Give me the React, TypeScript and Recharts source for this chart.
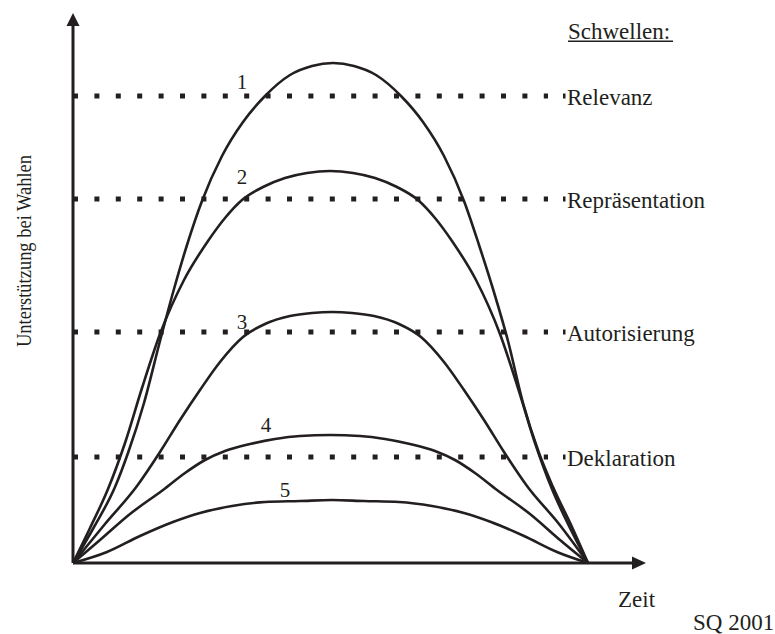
import { LineChart, Line, XAxis, YAxis, ReferenceLine, ReferenceDot } from 'recharts';

const INK = '#231f20';
const FONT = '"Liberation Serif", "Times New Roman", serif';

// curves: x = time, y = support
const curve1X = [0, 21, 42, 55, 71, 87, 101, 114, 129, 149, 170, 192, 217, 239, 260, 281, 303, 328, 350, 371, 391, 406, 420, 435, 450, 466, 480, 499, 515];
const curve1Y = [0, 36, 76, 110, 160, 222, 274, 318, 362, 407, 441, 467, 488, 497, 500, 497, 488, 467, 441, 407, 362, 318, 274, 222, 160, 110, 76, 36, 0];
const curve2X = [0, 17, 35, 52, 69, 87, 111, 135, 152, 169, 190, 212, 234, 257, 280, 302, 324, 345, 362, 379, 403, 427, 445, 462, 479, 497, 515];
const curve2Y = [0, 35, 74, 120, 175, 229, 283, 322, 345, 363, 376, 385, 390, 392, 390, 385, 376, 363, 345, 322, 283, 229, 175, 120, 74, 35, 0];
const curve3X = [0, 32, 64, 87, 107, 127, 147, 170, 192, 217, 239, 259, 279, 301, 326, 348, 371, 391, 411, 431, 454, 486, 515];
const curve3Y = [0, 39, 77, 111, 143, 173, 201, 226, 239, 247, 250, 251, 250, 247, 239, 226, 201, 173, 143, 111, 77, 39, 0];
const curve4X = [0, 27, 57, 90, 112, 132, 152, 177, 202, 227, 257, 287, 312, 337, 362, 382, 402, 424, 457, 487, 515];
const curve4Y = [0, 23, 49, 73, 90, 103, 112, 119, 124, 127, 128, 127, 124, 119, 112, 103, 90, 73, 49, 23, 0];
const curve5X = [0, 34, 67, 100, 127, 159, 192, 227, 259, 291, 326, 359, 391, 418, 451, 484, 515];
const curve5Y = [0, 11, 27, 41, 50, 57, 61, 62, 63, 62, 61, 57, 50, 41, 27, 11, 0];

const curveNames = ['1', '2', '3', '4', '5'];
const curveLabelX = [169, 169, 169, 193, 212];
const curveLabelY = [481, 386, 241, 138, 73];

const thresholdNames = ['Relevanz', 'Repräsentation', 'Autorisierung', 'Deklaration'];
const thresholdValues = [467, 364, 231, 106];
const thresholdEnd = 475;
const thresholdLabelX = 491;

const X_MAX = 573;
const Y_MAX = 550;

const toPoints = (xs: number[], ys: number[]) => xs.map((x, i) => ({ x, y: ys[i] }));
const curves = [
  toPoints(curve1X, curve1Y),
  toPoints(curve2X, curve2Y),
  toPoints(curve3X, curve3Y),
  toPoints(curve4X, curve4Y),
  toPoints(curve5X, curve5Y),
];

export default function App() {
  return (
    <div style={{ position: 'absolute', left: 0, top: 0, width: 775, height: 634, background: '#fff' }}>
      <LineChart width={775} height={634} margin={{ top: 13, right: 129, bottom: 71, left: 73 }}>
        <XAxis type="number" dataKey="x" domain={[0, X_MAX]} height={0} tick={false} tickLine={false} axisLine={false} />
        <YAxis type="number" dataKey="y" domain={[0, Y_MAX]} width={0} tick={false} tickLine={false} axisLine={false} />
        {/* axes */}
        <ReferenceLine segment={[{ x: 0, y: 0 }, { x: X_MAX - 6, y: 0 }]} stroke={INK} strokeWidth={3} />
        <ReferenceLine segment={[{ x: 0, y: 0 }, { x: 0, y: Y_MAX - 6 }]} stroke={INK} strokeWidth={3} />
        {thresholdValues.map((v) => (
          <ReferenceLine
            key={'t' + v}
            segment={[{ x: 0, y: v }, { x: thresholdEnd, y: v }]}
            stroke={INK}
            strokeWidth={5}
            strokeDasharray="5 16.4"
          />
        ))}
        {thresholdValues.map((v, i) => (
          <ReferenceDot
            key={'tl' + v}
            x={thresholdLabelX}
            y={v}
            shape={(p: any) => (
              <g>
                <rect x={p.cx - 1} y={p.cy - 2.5} width={2.5} height={5} fill={INK} />
                <text x={p.cx + 3} y={p.cy + 8.5} fontFamily={FONT} fontSize={23} fill={INK}>
                  {thresholdNames[i]}
                </text>
              </g>
            )}
          />
        ))}
        {curves.map((pts, i) => (
          <Line
            key={'c' + i}
            data={pts}
            dataKey="y"
            type="monotone"
            dot={false}
            stroke={INK}
            strokeWidth={2.6}
            isAnimationActive={false}
          />
        ))}
        {curveNames.map((n, i) => (
          <ReferenceDot
            key={'n' + n}
            x={curveLabelX[i]}
            y={curveLabelY[i]}
            shape={(p: any) => (
              <text x={p.cx} y={p.cy + 7} textAnchor="middle" fontFamily={FONT} fontSize={21} fill={INK}>
                {n}
              </text>
            )}
          />
        ))}
        <ReferenceDot
          x={X_MAX}
          y={0}
          shape={(p: any) => (
            <polygon points={`${p.cx},${p.cy} ${p.cx - 14},${p.cy - 6.5} ${p.cx - 14},${p.cy + 6.5}`} fill={INK} />
          )}
        />
        <ReferenceDot
          x={0}
          y={Y_MAX}
          shape={(p: any) => (
            <polygon points={`${p.cx},${p.cy} ${p.cx - 6.5},${p.cy + 13} ${p.cx + 6.5},${p.cy + 13}`} fill={INK} />
          )}
        />
      </LineChart>
      <svg
        width={775}
        height={634}
        style={{ position: 'absolute', left: 0, top: 0, pointerEvents: 'none' }}
        fontFamily={FONT}
        fill={INK}
      >
        <text x={568} y={39} fontSize={23}>Schwellen:</text>
        <rect x={568} y={40.5} width={105} height={1.5} fill={INK} />
        <text x={618} y={607} fontSize={23}>Zeit</text>
        <text x={693} y={630} fontSize={23}>SQ 2001</text>
        <text
          x={0}
          y={0}
          fontSize={21}
          textAnchor="middle"
          textLength={192}
          lengthAdjust="spacingAndGlyphs"
          transform="translate(31 251) rotate(-90)"
        >
          Unterstützung bei Wahlen
        </text>
      </svg>
    </div>
  );
}
